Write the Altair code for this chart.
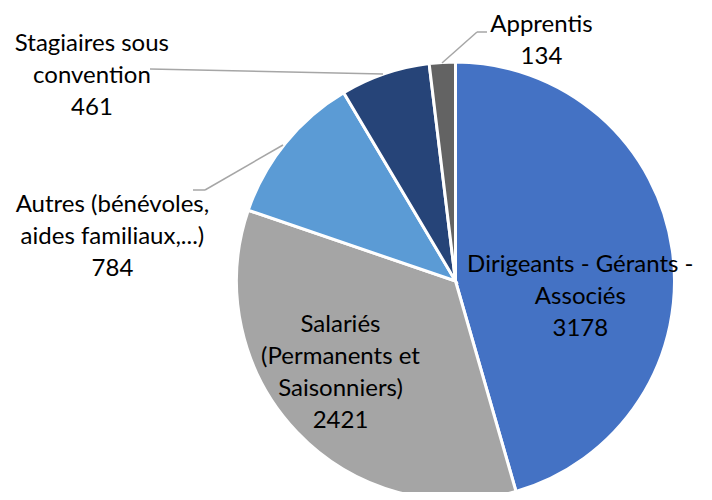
import altair as alt
import pandas as pd
import math

# ---- data ----
categories = [
    "Dirigeants - Gérants - Associés",
    "Salariés (Permanents et Saisonniers)",
    "Autres (bénévoles, aides familiaux,...)",
    "Stagiaires sous convention",
    "Apprentis",
]
label_lines = [
    "Dirigeants - Gérants -\nAssociés",
    "Salariés\n(Permanents et\nSaisonniers)",
    "Autres (bénévoles,\naides familiaux,...)",
    "Stagiaires sous\nconvention",
    "Apprentis",
]
values = [3178, 2421, 784, 461, 134]
colors = ["#4472C4", "#A5A5A5", "#5B9BD5", "#264478", "#636363"]

df = pd.DataFrame({
    "cat": categories,
    "value": values,
    "order": list(range(len(categories))),
    "label": [f"{l}\n{v}" for l, v in zip(label_lines, values)],
})

TOTAL = sum(values)
theta_scale = alt.Scale(domain=[0, TOTAL], range=[0, 2 * math.pi])

CX, CY, R = 447.5, 273, 219
FONT = "Lato"

arcs = alt.Chart(df).mark_arc(radius=R, stroke="white", strokeWidth=3).encode(
    theta=alt.Theta("value:Q", stack=True, scale=theta_scale),
    order=alt.Order("order:Q"),
    color=alt.Color("cat:N", scale=alt.Scale(domain=categories, range=colors), legend=None),
    x=alt.value(CX),
    y=alt.value(CY),
)

text_base = alt.Chart(df).transform_window(
    cum="sum(value)", sort=[alt.SortField("order")], frame=[None, 0]
).transform_calculate(mid="datum.cum - datum.value / 2")

# label placement: (radius, dx, dy) per category
placements = {
    categories[0]: (120, 6, 1),
    categories[1]: (145, -10, -56),
    categories[2]: (250, -149, 82),
    categories[3]: (250, -283, 0),
    categories[4]: (250, 101, -6),
}

label_layers = []
for cat, (r, dx, dy) in placements.items():
    label_layers.append(
        text_base.transform_filter(alt.datum.cat == cat)
        .mark_text(radius=r, dx=dx, dy=dy, font=FONT, fontSize=24, lineBreak="\n",
                   lineHeight=32, align="center", baseline="middle", color="#000000")
        .encode(
            theta=alt.Theta("mid:Q", stack=None, scale=theta_scale),
            text="label:N", x=alt.value(CX), y=alt.value(CY),
        )
    )

# leader lines (chart coords)
seg_df = pd.DataFrame({
    "x": [434, 469, 375, 275, 197],
    "y": [55, 24, 66, 137, 182],
    "x2": [469, 479, 142, 197, 185],
    "y2": [24, 24, 61, 182, 182],
})
leaders = alt.Chart(seg_df).mark_rule(color="#A6A6A6", strokeWidth=1.5).encode(
    x=alt.X("x:Q", scale=None),
    y=alt.Y("y:Q", scale=None),
    x2="x2:Q",
    y2="y2:Q",
)

chart = alt.layer(arcs, leaders, *label_layers).properties(
    width=696, height=484, autosize=alt.AutoSizeParams(type="none"), padding=0
).configure_view(stroke=None)

chart.save("out.html", embed_options={"renderer": "svg", "actions": False})
